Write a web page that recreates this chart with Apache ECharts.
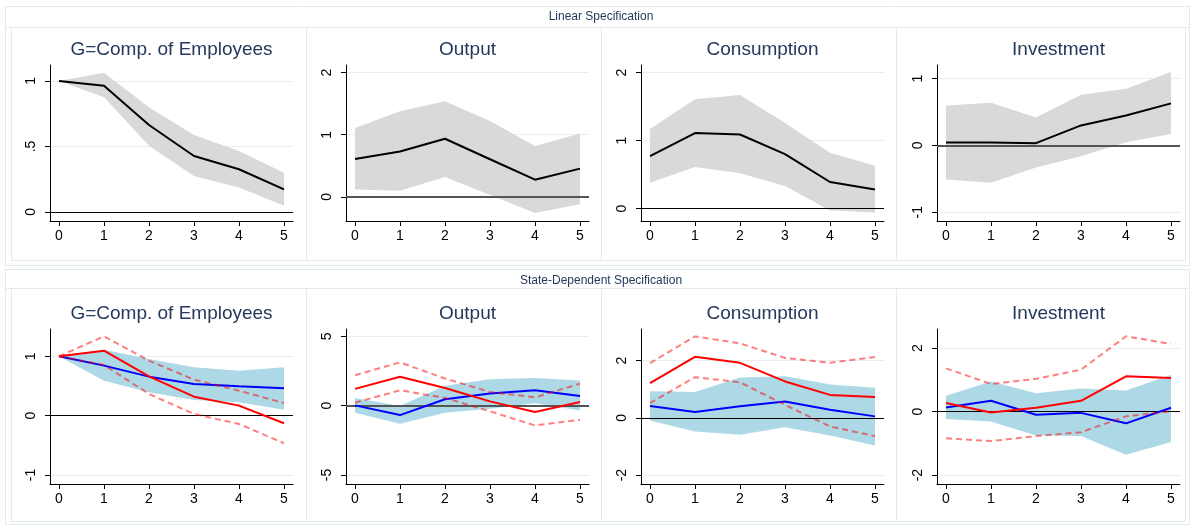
<!DOCTYPE html>
<html><head><meta charset="utf-8">
<script src="https://cdn.jsdelivr.net/npm/echarts@6/dist/echarts.min.js"></script>
<style>html,body{margin:0;padding:0;background:#fff}#c{width:1192px;height:525px}</style>
</head><body><div id="c"></div>
<script>
// ---------- DATA ----------
const horizons = [0, 1, 2, 3, 4, 5];
const panelTitles = ['G=Comp. of Employees', 'Output', 'Consumption', 'Investment'];
const rowTitles = ['Linear Specification', 'State-Dependent Specification'];

// Linear specification: point estimate, upper and lower bands
const linG   = [1.00, 0.964, 0.664, 0.427, 0.326, 0.173];
const linGUp = [1.00, 1.063, 0.800, 0.588, 0.466, 0.300];
const linGLo = [1.00, 0.876, 0.506, 0.275, 0.186, 0.048];
const linY   = [0.61, 0.73, 0.935, 0.605, 0.276, 0.454];
const linYUp = [1.11, 1.38, 1.54, 1.22, 0.82, 1.02];
const linYLo = [0.12, 0.10, 0.32, 0.03, -0.26, -0.12];
const linC   = [0.77, 1.11, 1.09, 0.80, 0.39, 0.28];
const linCUp = [1.17, 1.61, 1.67, 1.26, 0.82, 0.63];
const linCLo = [0.38, 0.61, 0.52, 0.33, -0.03, -0.06];
const linI   = [0.045, 0.045, 0.035, 0.30, 0.45, 0.63];
const linIUp = [0.60, 0.64, 0.42, 0.76, 0.85, 1.10];
const linILo = [-0.51, -0.56, -0.33, -0.16, 0.05, 0.17];

// State-dependent specification: blue state (with shaded band), red state (dashed bands)
const sdGBlue   = [1.00, 0.843, 0.657, 0.534, 0.494, 0.461];
const sdGBlueUp = [1.00, 1.11, 0.955, 0.815, 0.758, 0.815];
const sdGBlueLo = [1.00, 0.59, 0.393, 0.264, 0.225, 0.10];
const sdGRed    = [1.00, 1.095, 0.663, 0.32, 0.169, -0.129];
const sdGRedUp  = [1.00, 1.337, 0.927, 0.607, 0.421, 0.213];
const sdGRedLo  = [1.00, 0.854, 0.365, 0.028, -0.14, -0.466];

const sdYBlue   = [0.02, -0.68, 0.46, 0.87, 1.11, 0.70];
const sdYBlueUp = [0.56, -0.02, 1.43, 1.91, 2.00, 1.81];
const sdYBlueLo = [-0.51, -1.30, -0.51, -0.22, 0.17, -0.34];
const sdYRed    = [1.21, 2.08, 1.28, 0.31, -0.46, 0.27];
const sdYRedUp  = [2.20, 3.12, 1.96, 0.99, 0.60, 1.59];
const sdYRedLo  = [0.22, 1.11, 0.56, -0.41, -1.43, -1.01];

const sdCBlue   = [0.41, 0.20, 0.40, 0.57, 0.28, 0.05];
const sdCBlueUp = [0.93, 0.90, 1.41, 1.45, 1.16, 1.05];
const sdCBlueLo = [-0.09, -0.48, -0.59, -0.33, -0.62, -0.97];
const sdCRed    = [1.21, 2.13, 1.92, 1.27, 0.80, 0.73];
const sdCRedUp  = [1.91, 2.84, 2.60, 2.09, 1.92, 2.12];
const sdCRedLo  = [0.51, 1.42, 1.24, 0.45, -0.30, -0.64];

const sdIBlue   = [0.13, 0.34, -0.10, -0.04, -0.37, 0.12];
const sdIBlueUp = [0.50, 0.95, 0.58, 0.73, 0.66, 1.16];
const sdIBlueLo = [-0.23, -0.31, -0.75, -0.77, -1.36, -0.96];
const sdIRed    = [0.27, -0.03, 0.12, 0.34, 1.11, 1.06];
const sdIRedUp  = [1.36, 0.87, 1.03, 1.32, 2.37, 2.13];
const sdIRedLo  = [-0.84, -0.93, -0.77, -0.65, -0.15, 0.01];

// y tick labels per panel
const yTicksTop    = [[0, 0.5, 1], [0, 1, 2], [0, 1, 2], [-1, 0, 1]];
const yTicksBottom = [[-1, 0, 1], [-5, 0, 5], [-2, 0, 2], [-2, 0, 2]];

// ---------- LAYOUT / STYLE ----------
const FONT = '"Liberation Sans", Arial, Helvetica, sans-serif';
const TITLE_COLOR = '#26395c';
const BORDER = '#e2ebee';
const GRIDC = '#e6eef1';
const gridLefts = [50, 346, 641, 937];
const gridW = 243;
const rowTop = [65, 329];
const rowH = [156, 155];
const yRangeTop = [[-0.069, 1.122], [-0.389, 2.123], [-0.184, 2.113], [-1.131, 1.205]];
const yRangeBottom = [[-1.152, 1.46], [-5.65, 5.53], [-2.31, 3.10], [-2.28, 2.60]];
const zeroStyleTop = [{c: '#000', w: 1}, {c: '#555', w: 2}, {c: '#000', w: 1}, {c: '#555', w: 2}];
const zeroStyleBottom = [{c: '#000', w: 1}, {c: '#555', w: 2}, {c: '#000', w: 1}, {c: '#000', w: 1}];

const linear = [
  {m: linG, up: linGUp, lo: linGLo},
  {m: linY, up: linYUp, lo: linYLo},
  {m: linC, up: linCUp, lo: linCLo},
  {m: linI, up: linIUp, lo: linILo}
];
const stateDep = [
  {b: sdGBlue, bu: sdGBlueUp, bl: sdGBlueLo, r: sdGRed, ru: sdGRedUp, rl: sdGRedLo},
  {b: sdYBlue, bu: sdYBlueUp, bl: sdYBlueLo, r: sdYRed, ru: sdYRedUp, rl: sdYRedLo},
  {b: sdCBlue, bu: sdCBlueUp, bl: sdCBlueLo, r: sdCRed, ru: sdCRedUp, rl: sdCRedLo},
  {b: sdIBlue, bu: sdIBlueUp, bl: sdIBlueLo, r: sdIRed, ru: sdIRedUp, rl: sdIRedLo}
];

const fmt = v => {
  let s = String(v);
  if (s.startsWith('0.')) s = s.slice(1);
  if (s.startsWith('-0.')) s = '-' + s.slice(2);
  return s;
};
const pairs = arr => horizons.map((h, i) => [h, arr[i]]);

const grids = [], xAxes = [], yAxes = [], series = [];

function addPanel(gi, row, col, range, ticks) {
  grids.push({left: gridLefts[col], top: rowTop[row], width: gridW, height: rowH[row], containLabel: false});
  xAxes.push({
    type: 'value', gridIndex: gi, min: -0.2, max: 5.2,
    axisLine: {show: true, onZero: false, lineStyle: {color: '#000', width: 1}},
    axisTick: {show: true, length: 5, customValues: horizons, lineStyle: {color: '#000'}},
    axisLabel: {customValues: horizons, margin: 8, fontSize: 14, color: '#000', fontFamily: FONT},
    splitLine: {show: false}
  });
  yAxes.push({
    type: 'value', gridIndex: gi, min: range[0], max: range[1],
    axisLine: {show: true, onZero: false, lineStyle: {color: '#000', width: 1}},
    axisTick: {show: true, length: 5, customValues: ticks, lineStyle: {color: '#000'}},
    axisLabel: {customValues: ticks, rotate: 90, margin: 12, fontSize: 14, color: '#000',
      fontFamily: FONT, formatter: fmt},
    splitLine: {show: false}
  });
  // gridlines at tick values (behind everything)
  series.push({
    type: 'line', xAxisIndex: gi, yAxisIndex: gi, data: [], silent: true, z: 0,
    symbol: 'none', lineStyle: {opacity: 0},
    markLine: {
      silent: true, symbol: ['none', 'none'], label: {show: false}, animation: false, z: 0,
      lineStyle: {color: GRIDC, width: 1, type: 'solid'},
      data: ticks.filter(t => t !== 0).map(t => ({yAxis: t}))
    }
  });
}

function band(gi, lo, up, color) {
  series.push({
    type: 'custom', xAxisIndex: gi, yAxisIndex: gi, silent: true, z: 1,
    data: horizons.map((h, i) => [h, lo[i], up[i]]),
    encode: {x: 0, y: [1, 2]},
    renderItem(params, api) {
      if (params.dataIndex !== 0) return null;
      const top = [], bot = [];
      for (let i = 0; i < horizons.length; i++) {
        top.push(api.coord([horizons[i], up[i]]));
        bot.push(api.coord([horizons[i], lo[i]]));
      }
      return {type: 'polygon', shape: {points: top.concat(bot.reverse())}, style: {fill: color}};
    }
  });
}

function zero(gi, zs) {
  series.push({
    type: 'line', xAxisIndex: gi, yAxisIndex: gi, data: [], silent: true, z: 2,
    symbol: 'none', lineStyle: {opacity: 0},
    markLine: {
      silent: true, symbol: ['none', 'none'], label: {show: false}, animation: false, z: 2,
      lineStyle: {color: zs.c, width: zs.w, type: 'solid'},
      data: [{yAxis: 0}]
    }
  });
}

function line(gi, arr, color, dashed) {
  series.push({
    type: 'line', xAxisIndex: gi, yAxisIndex: gi, data: pairs(arr), silent: true, z: 3,
    symbol: 'none', smooth: false,
    lineStyle: {color: color, width: 2, type: dashed ? [6, 4] : 'solid'}
  });
}

// top row
for (let c = 0; c < 4; c++) {
  const gi = c;
  addPanel(gi, 0, c, yRangeTop[c], yTicksTop[c]);
  band(gi, linear[c].lo, linear[c].up, '#d9d9d9');
  zero(gi, zeroStyleTop[c]);
  line(gi, linear[c].m, '#000', false);
}
// bottom row
for (let c = 0; c < 4; c++) {
  const gi = 4 + c;
  const d = stateDep[c];
  addPanel(gi, 1, c, yRangeBottom[c], yTicksBottom[c]);
  band(gi, d.bl, d.bu, '#add8e6');
  zero(gi, zeroStyleBottom[c]);
  line(gi, d.b, '#0000ff', false);
  line(gi, d.r, '#ff0000', false);
  line(gi, d.ru, 'rgba(255,0,0,0.5)', true);
  line(gi, d.rl, 'rgba(255,0,0,0.5)', true);
}

// frames and titles
const graphic = [];
const rect = (x, y, w, h) => ({type: 'rect', silent: true, z: -10,
  shape: {x: x, y: y, width: w, height: h},
  style: {fill: 'none', stroke: BORDER, lineWidth: 1}});
const txt = (x, y, s, size) => ({type: 'text', silent: true, z: 10, x: x, y: y,
  style: {text: s, fill: TITLE_COLOR, font: size + 'px ' + FONT,
    textAlign: 'center', textVerticalAlign: 'middle', align: 'center', verticalAlign: 'middle'}});

const outerTops = [6.5, 269.5], outerBots = [265.5, 524.5];
const innerTops = [27.5, 288.5], innerBots = [260.5, 521.5];
const innerX = [11.5, 306.5, 601.5, 896.5, 1185.5];
const headerY = [17, 281];
const titleY = [50, 314];
for (let r = 0; r < 2; r++) {
  graphic.push(rect(5.5, outerTops[r], 1184, outerBots[r] - outerTops[r]));
  graphic.push({type: 'line', silent: true, z: -10,
    shape: {x1: 5.5, y1: innerTops[r], x2: 1189.5, y2: innerTops[r]},
    style: {stroke: BORDER, lineWidth: 1}});
  for (let c = 0; c < 4; c++) {
    graphic.push(rect(innerX[c], innerTops[r], innerX[c + 1] - innerX[c], innerBots[r] - innerTops[r]));
    graphic.push(txt(gridLefts[c] + gridW / 2, titleY[r], panelTitles[c], 19));
  }
  graphic.push(txt(601, headerY[r], rowTitles[r], 12));
}

const chart = echarts.init(document.getElementById('c'), null, {renderer: 'canvas'});
chart.setOption({
  animation: false,
  backgroundColor: '#fff',
  textStyle: {fontFamily: FONT},
  grid: grids, xAxis: xAxes, yAxis: yAxes, series: series, graphic: graphic
});
</script>
</body></html>
